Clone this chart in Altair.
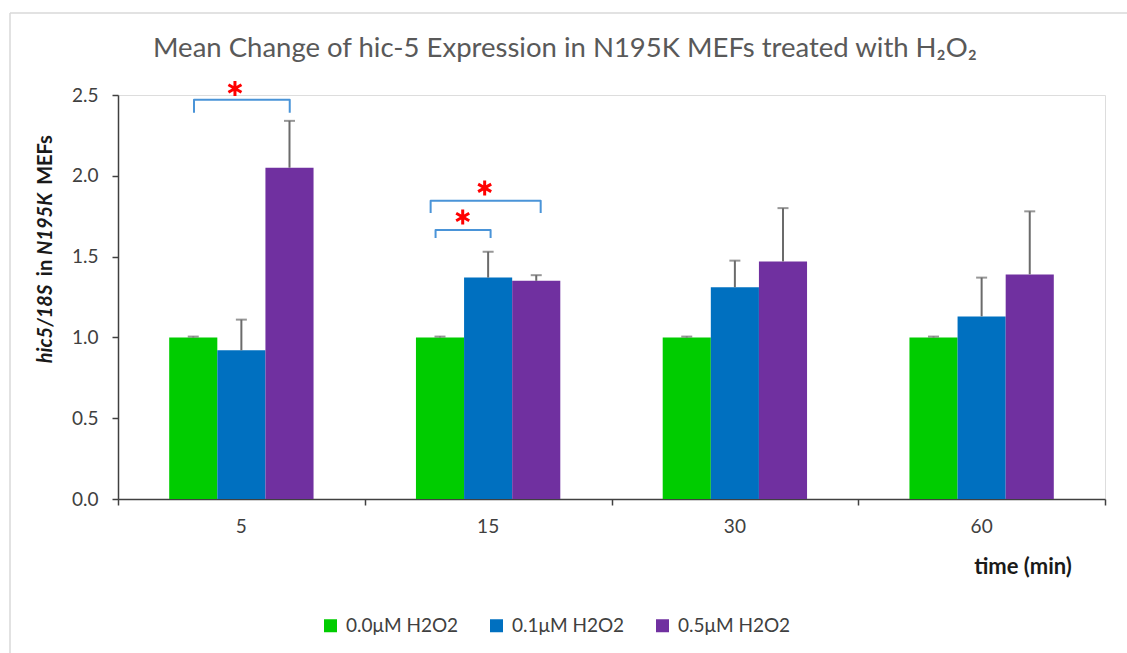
import altair as alt
import pandas as pd

# ---- data -------------------------------------------------------------
times = ["5", "15", "30", "60"]
doses = ["0.0μM H2O2", "0.1μM H2O2", "0.5μM H2O2"]
dose_colors = ["#00CC00", "#0070C0", "#7030A0"]

mean_00 = [1.00, 1.00, 1.00, 1.00]
mean_01 = [0.92, 1.37, 1.31, 1.13]
mean_05 = [2.05, 1.35, 1.47, 1.39]
err_00 = [0.005, 0.005, 0.005, 0.005]
err_01 = [0.19, 0.16, 0.165, 0.24]
err_05 = [0.29, 0.035, 0.33, 0.39]

# significance brackets (x in category units along the time axis)
bracket_x1 = [0.308, 1.287, 1.267]
bracket_x2 = [0.696, 1.510, 1.713]
bracket_top = [2.47, 1.665, 1.846]
bracket_foot = [2.39, 1.615, 1.77]
star_x = [0.474, 1.397, 1.486]
star_y = [2.54, 1.745, 1.925]

# ---- layout -----------------------------------------------------------
W, H = 987, 404
PAD_L, PAD_T = 118, 95
TOTAL_W, TOTAL_H = 1127, 653
BAR_W = 0.195
FONT = "Lato"
TEXT = "#404040"

rows = []
for k, (d, means, errs) in enumerate(zip(doses, [mean_00, mean_01, mean_05],
                                        [err_00, err_01, err_05])):
    for i, t in enumerate(times):
        x0 = i + (1 - 3 * BAR_W) / 2 + k * BAR_W
        rows.append(dict(time=t, dose=d, mean=means[i], err=errs[i],
                         top=means[i] + errs[i], x0=x0, x1=x0 + BAR_W,
                         xc=x0 + BAR_W / 2))
bars_df = pd.DataFrame(rows)

cat_df = pd.DataFrame({"time": times, "pos": [i + 0.5 for i in range(len(times))]})

br_rows = []
for b in range(len(bracket_x1)):
    pts = [(bracket_x1[b], bracket_foot[b]), (bracket_x1[b], bracket_top[b]),
           (bracket_x2[b], bracket_top[b]), (bracket_x2[b], bracket_foot[b])]
    for o, (bx, by) in enumerate(pts):
        br_rows.append(dict(bid=b, order=o, bx=bx, by=by))
br_df = pd.DataFrame(br_rows)
star_df = pd.DataFrame({"sx": star_x, "sy": star_y})
one = pd.DataFrame({"a": [0]})

xscale = alt.Scale(domain=[0, 4], nice=False, zero=False)
yscale = alt.Scale(domain=[0, 2.5], nice=False)

bars = alt.Chart(bars_df).mark_bar().encode(
    x=alt.X("x0:Q", scale=xscale,
            axis=alt.Axis(values=[0, 1, 2, 3, 4], labels=False, title=None,
                          grid=False, tickSize=6, tickColor=TEXT,
                          domainColor=TEXT, domainWidth=1.5, tickWidth=1.5)),
    x2="x1:Q",
    y=alt.Y("mean:Q", scale=yscale, stack=None,
            axis=alt.Axis(values=[0, 0.5, 1, 1.5, 2, 2.5], format=".1f",
                          title=None, grid=False, tickSize=6, tickColor=TEXT,
                          domainColor=TEXT, domainWidth=1.5, tickWidth=1.5,
                          labelFontSize=19, labelColor=TEXT, labelPadding=14,
                          labelFont=FONT)),
    y2=alt.datum(0),
    color=alt.Color("dose:N", scale=alt.Scale(domain=doses, range=dose_colors),
                    legend=alt.Legend(title=None, orient="none", legendX=203,
                                      legendY=521, direction="horizontal",
                                      symbolType="square", symbolSize=169,
                                      symbolStrokeWidth=0, labelFontSize=19,
                                      labelColor=TEXT, labelFont=FONT,
                                      columnPadding=28, padding=0,
                                      labelOffset=6)),
)

err_line = alt.Chart(bars_df).mark_rule(color="#6b6b6b", strokeWidth=2).encode(
    x=alt.X("xc:Q", scale=xscale), y=alt.Y("mean:Q", scale=yscale), y2="top:Q")
err_cap = alt.Chart(bars_df).mark_tick(color="#6b6b6b", thickness=2, size=11,
                                       orient="horizontal").encode(
    x=alt.X("xc:Q", scale=xscale), y=alt.Y("top:Q", scale=yscale))

cat_labels = alt.Chart(cat_df).mark_text(fontSize=19, font=FONT, color=TEXT,
                                         baseline="alphabetic").encode(
    x=alt.X("pos:Q", scale=xscale), y=alt.value(438), text="time:N")

brackets = alt.Chart(br_df).mark_line(color="#4a94d8", strokeWidth=2,
                                      strokeJoin="round").encode(
    x=alt.X("bx:Q", scale=xscale), y=alt.Y("by:Q", scale=yscale),
    detail="bid:N", order="order:Q")

stars = alt.Chart(star_df).mark_point(
    shape="M0,-1L0,1M-0.87,-0.5L0.87,0.5M-0.87,0.5L0.87,-0.5",
    size=225, filled=False, stroke="#FF0000", strokeWidth=3, opacity=1).encode(
    x=alt.X("sx:Q", scale=xscale), y=alt.Y("sy:Q", scale=yscale))

title = alt.Chart(one).mark_text(
    text="Mean Change of hic-5 Expression in N195K MEFs treated with H₂O₂",
    fontSize=27.5, font=FONT, color="#595959", align="center",
    baseline="alphabetic").encode(x=alt.value(565 - PAD_L), y=alt.value(57 - PAD_T))

xtitle = alt.Chart(one).mark_text(
    text="time (min)", fontSize=22, font=FONT, fontWeight="bold", color="#1a1a1a",
    align="center", baseline="alphabetic").encode(
    x=alt.value(1023 - PAD_L), y=alt.value(574 - PAD_T))

# rotated y-axis title with mixed italic / upright runs
ytitle_parts = [("hic5/18S", "italic", 324), ("in", "normal", 268),
                ("N195K", "italic", 224), ("MEFs", "normal", 160)]
ytitle = [
    alt.Chart(one).mark_text(text=txt, fontSize=20, font=FONT, fontWeight="bold",
                             fontStyle=style, color="#1a1a1a", angle=270,
                             align="center", baseline="middle").encode(
        x=alt.value(46 - PAD_L), y=alt.value(cy - PAD_T))
    for txt, style, cy in ytitle_parts
]

frame_top = alt.Chart(one).mark_rule(color="#d9d9d9", strokeWidth=1.5).encode(
    x=alt.value(10 - PAD_L), x2=alt.value(TOTAL_W - PAD_L), y=alt.value(13 - PAD_T))
frame_left = alt.Chart(one).mark_rule(color="#d9d9d9", strokeWidth=1.5).encode(
    x=alt.value(10 - PAD_L), y=alt.value(13 - PAD_T), y2=alt.value(TOTAL_H - PAD_T))

chart = alt.layer(
    frame_top, frame_left, bars, err_line, err_cap, cat_labels, brackets, stars,
    title, xtitle, *ytitle
).properties(
    width=W, height=H,
    autosize=alt.AutoSizeParams(type="none"),
    padding={"left": PAD_L, "top": PAD_T,
             "right": TOTAL_W - PAD_L - W, "bottom": TOTAL_H - PAD_T - H},
    background="white",
).configure_view(stroke=None).configure(font=FONT)

chart.save("out.html", embed_options={"renderer": "svg", "actions": False})
